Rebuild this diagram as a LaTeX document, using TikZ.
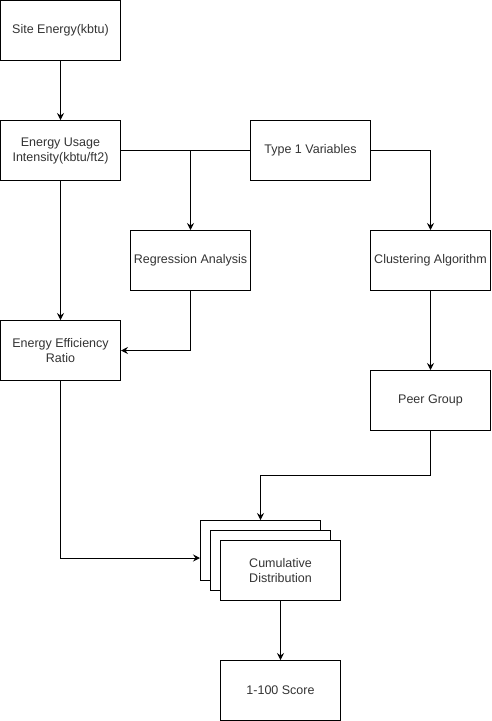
\documentclass[tikz,border=0pt]{standalone}
\usepackage{fontspec}
\setmainfont{Liberation Sans}
\usetikzlibrary{arrows.meta}
\begin{document}
\begin{tikzpicture}[x=1pt,y=-1pt,
  box/.style={draw=black,fill=white,line width=1pt,minimum width=120pt,minimum height=60pt,inner sep=0pt,align=center,anchor=north west,text=black!80,font=\fontsize{12.5}{15}\selectfont},
  conn/.style={draw=black,line width=1pt,-{Stealth[length=7pt,width=7pt,inset=2.5pt]}},
  plain/.style={draw=black,line width=1pt}]
\useasboundingbox (0,0) rectangle (491,721);
\node[box] (site) at (0,0) {Site Energy(kbtu)};
\node[box] (eui) at (0,120) {Energy Usage\\Intensity(kbtu/ft2)};
\node[box] (type1) at (250,120) {Type 1 Variables};
\node[box] (reg) at (130,230) {Regression Analysis};
\node[box] (clu) at (370,230) {Clustering Algorithm};
\node[box] (eer) at (0,320) {Energy Efficiency\\Ratio};
\node[box] (peer) at (370,370) {Peer Group};
\node[box] (cd1) at (200,520) {};
\node[box] (cd2) at (210,530) {};
\node[box] (cd3) at (220,540) {Cumulative\\Distribution};
\node[box] (score) at (220,660) {1-100 Score};
\coordinate (j1) at (reg.north |- eui.east);
\draw[conn] (site.south) -- (eui.north);
\draw[plain] (eui.east) -- (type1.west);
\draw[conn] (j1) -- (reg.north);
\draw[conn] (type1.east) -| (clu.north);
\draw[conn] (eui.south) -- (eer.north);
\draw[conn] (reg.south) |- (eer.east);
\draw[conn] (clu.south) -- (peer.north);
\coordinate (p1) at (peer.south |- 0,475.5);
\coordinate (p2) at (260.5,475.5);
\draw[conn] (peer.south) -- (p1) -- (p2) -- (p2 |- cd1.north);
\draw[conn] (eer.south) |- (cd1.west |- 0,558);
\draw[conn] (cd3.south) -- (score.north);
\end{tikzpicture}
\end{document}
